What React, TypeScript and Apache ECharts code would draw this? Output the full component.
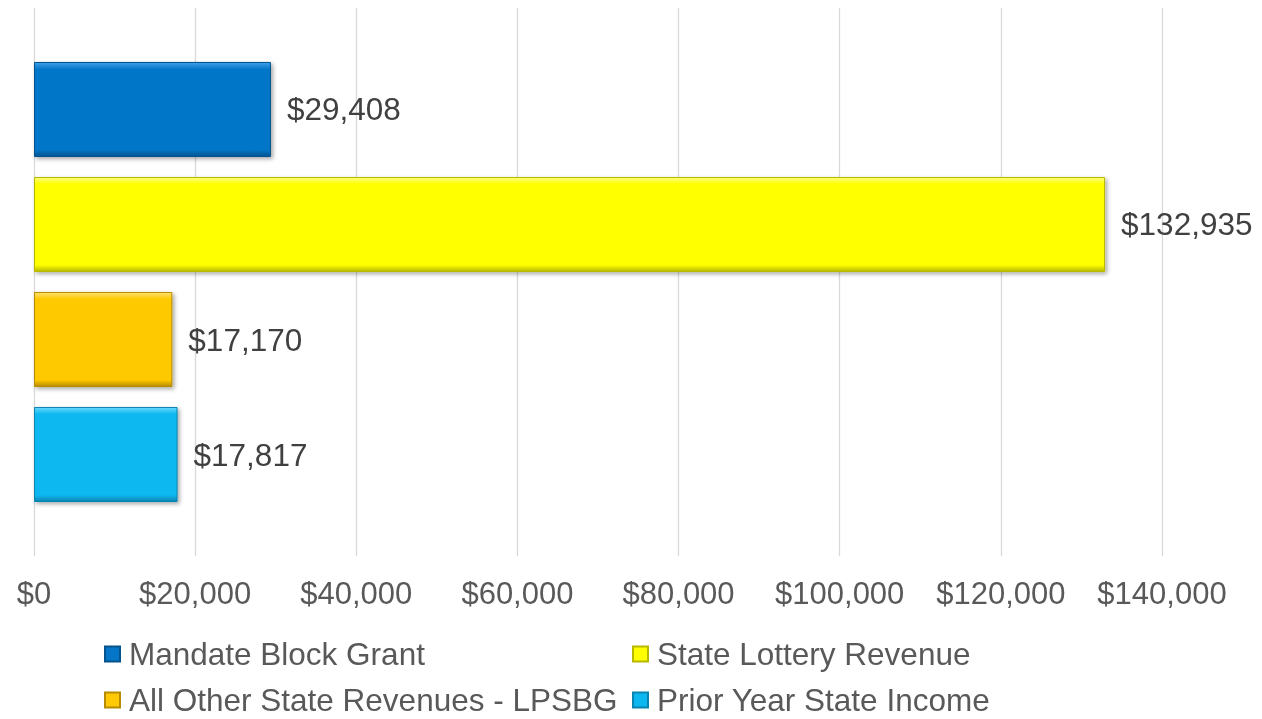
import React, { useEffect, useRef } from "react";
import * as echarts from "echarts";

const seriesNames = [
  "Mandate Block Grant",
  "State Lottery Revenue",
  "All Other State Revenues - LPSBG",
  "Prior Year State Income",
];
const seriesValues = [29408, 132935, 17170, 17817];
const seriesColors = ["#0676C8", "#FFFF00", "#FFC905", "#0DB8F0"];
const lightColors = ["#3FA2EA", "#FFFF80", "#FFE070", "#6AD8FF"];
const darkColors = ["#04538F", "#B8B800", "#B88C00", "#0784B0"];
const categories = [""];
const xTicks = { min: 0, max: 140000, interval: 20000 };

const fmt = (v: number) => "$" + v.toLocaleString("en-US");

export default function App() {
  const ref = useRef<HTMLDivElement>(null);
  useEffect(() => {
    if (!ref.current) return;
    const chart = echarts.init(ref.current, undefined, { renderer: "svg" });
    const font = "'Liberation Sans', Arial, sans-serif";
    const legendPos = [
      { left: 104, top: 638 },
      { left: 632, top: 638 },
      { left: 104, top: 684 },
      { left: 632, top: 684 },
    ];
    chart.setOption({
      animation: false,
      textStyle: { fontFamily: font },
      grid: { left: 34, right: 100, top: 8, bottom: 163, containLabel: false },
      legend: seriesNames.map((n, i) => ({
        data: [n],
        left: legendPos[i].left,
        top: legendPos[i].top,
        itemWidth: 15,
        itemHeight: 15,
        itemGap: 0,
        padding: 0,
        icon: "rect",
        textStyle: {
          fontSize: 31.5,
          lineHeight: 28,
          color: "#595959",
          fontFamily: font,
          padding: [0, 0, 0, 4],
        },
        selectedMode: false,
      })),
      xAxis: {
        type: "value",
        min: xTicks.min,
        max: xTicks.max,
        interval: xTicks.interval,
        axisLine: { show: false },
        axisTick: { show: false },
        splitLine: { show: true, lineStyle: { color: "#D9D9D9", width: 1.3 } },
        axisLabel: {
          formatter: (v: number) => fmt(v),
          fontSize: 31,
          color: "#595959",
          margin: 22,
          fontFamily: font,
        },
      },
      yAxis: {
        type: "category",
        data: categories,
        inverse: true,
        axisLine: { show: false },
        axisTick: { show: false },
        axisLabel: { show: false },
      },
      series: seriesNames.map((n, i) => ({
        name: n,
        type: "bar",
        data: [seriesValues[i]],
        barGap: "21%",
        barCategoryGap: "19.7%",
        itemStyle: {
          color: new echarts.graphic.LinearGradient(0, 0, 0, 1, [
            { offset: 0, color: lightColors[i] },
            { offset: 0.07, color: seriesColors[i] },
            { offset: 0.93, color: seriesColors[i] },
            { offset: 1, color: darkColors[i] },
          ]),
          borderColor: darkColors[i],
          borderWidth: 1,
          shadowColor: "rgba(0,0,0,0.35)",
          shadowBlur: 4,
          shadowOffsetX: 2,
          shadowOffsetY: 2,
        },
        label: {
          show: true,
          position: "right",
          distance: 16,
          formatter: (p: any) => fmt(p.value),
          fontSize: 31.5,
          color: "#404040",
          fontFamily: font,
        },
      })),
    });
    return () => chart.dispose();
  }, []);
  return (
    <div
      ref={ref}
      style={{ position: "fixed", left: 0, top: 0, width: 1262, height: 719 }}
    />
  );
}
